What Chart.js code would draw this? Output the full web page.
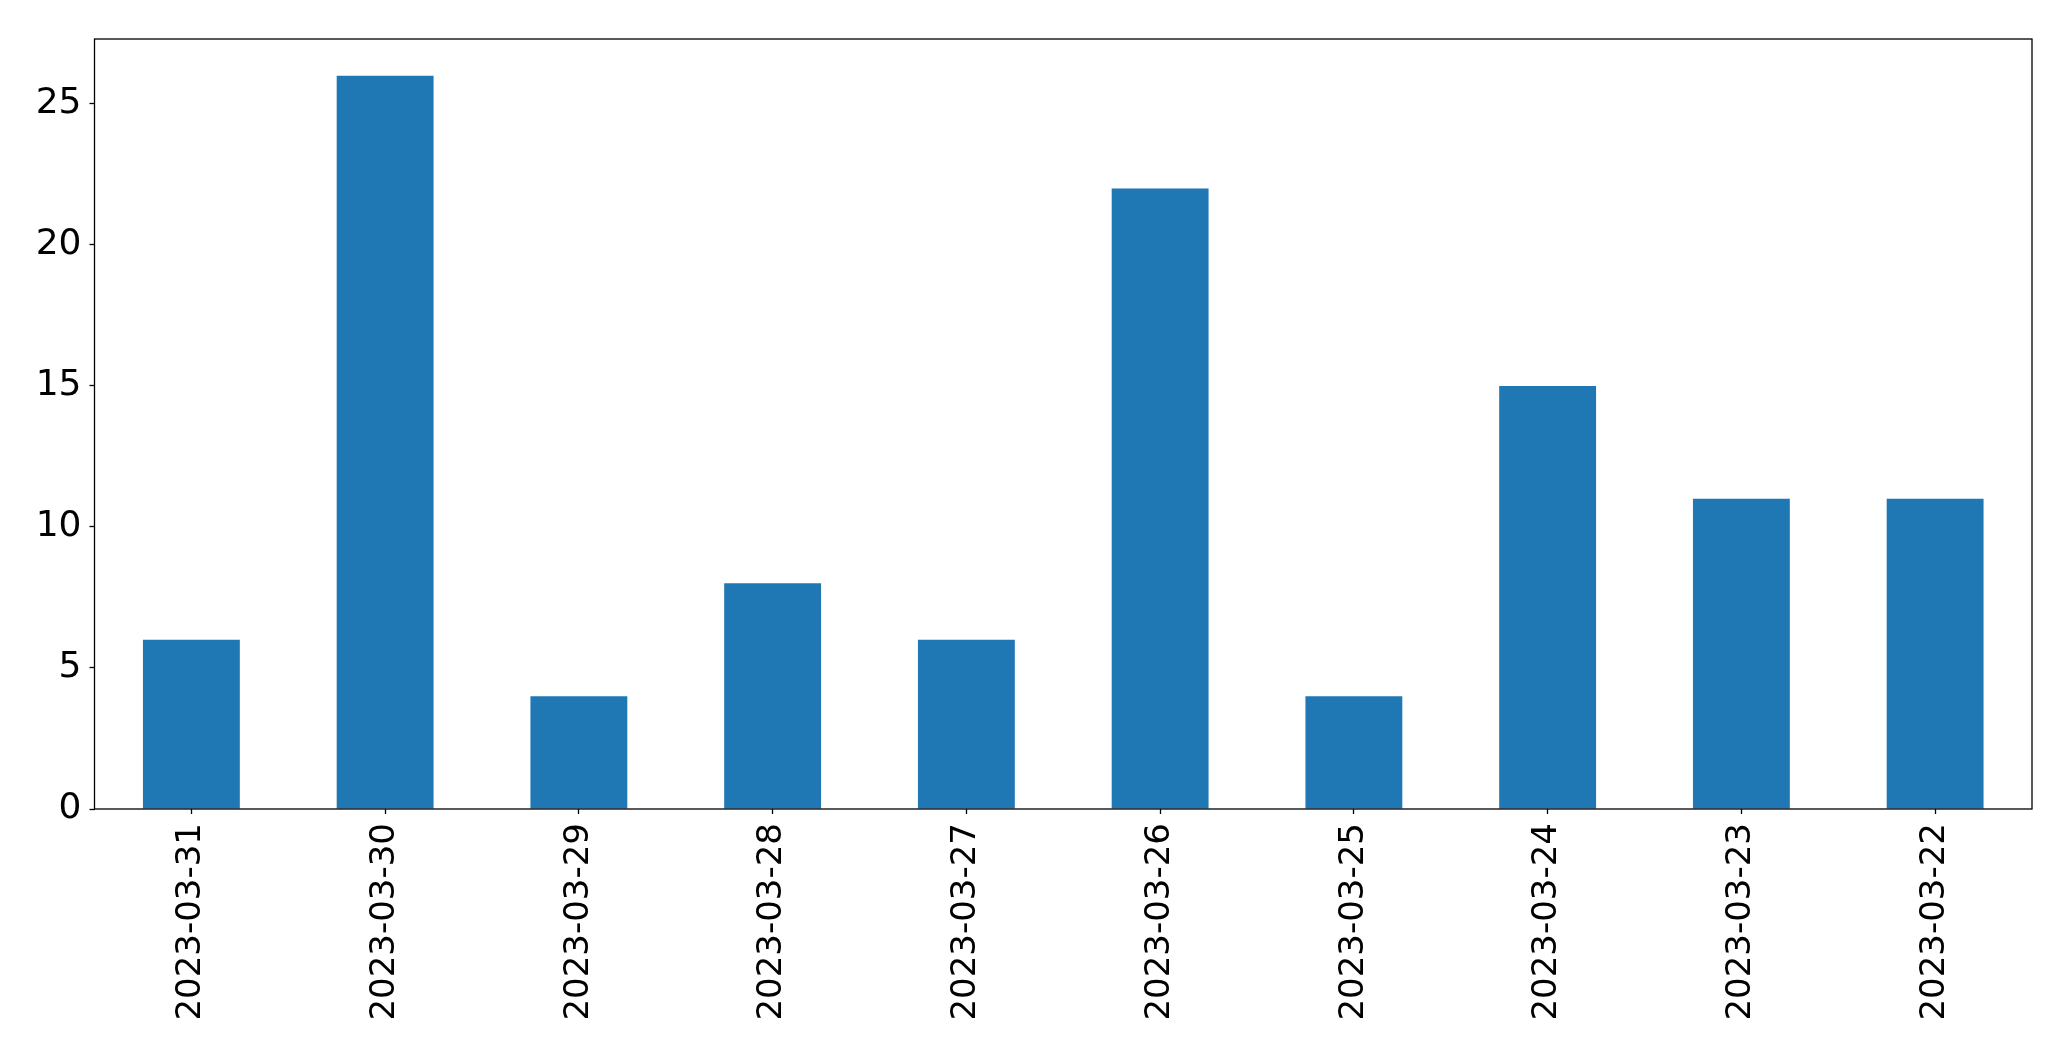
<!DOCTYPE html>
<html>
<head>
<meta charset="utf-8">
<script src="https://cdn.jsdelivr.net/npm/chart.js@4.4.0/dist/chart.umd.min.js"></script>
<style>
  html, body { margin: 0; padding: 0; background: #fff; }
  #wrap { width: 2071px; height: 1061px; }
</style>
</head>
<body>
<div id="wrap"><canvas id="barChart" width="2071" height="1061"></canvas></div>
<script>
var dateLabels = ['2023-03-31', '2023-03-30', '2023-03-29', '2023-03-28', '2023-03-27',
                  '2023-03-26', '2023-03-25', '2023-03-24', '2023-03-23', '2023-03-22'];
var countValues = [6, 26, 4, 8, 6, 22, 4, 15, 11, 11];
var yTicks = [0, 5, 10, 15, 20, 25];

// box around the plot area, like matplotlib's spines
var frameBox = {
  id: 'frameBox',
  afterDraw: function(chart) {
    var a = chart.chartArea;
    var c = chart.ctx;
    c.save();
    c.strokeStyle = '#000';
    c.lineWidth = 1.3;
    c.strokeRect(a.left, a.top, a.right - a.left, a.bottom - a.top);
    c.restore();
  }
};

var ctx = document.getElementById('barChart');
var barChart = new Chart(ctx, {
  type: 'bar',
  data: {
    labels: dateLabels,
    datasets: [{
      data: countValues,
      backgroundColor: '#1f77b4',
      borderWidth: 0,
      categoryPercentage: 1.0,
      barPercentage: 0.5
    }]
  },
  options: {
    responsive: false,
    animation: false,
    layout: { padding: { top: 39, right: 39, left: 0, bottom: 0 } },
    plugins: { legend: { display: false }, tooltip: { enabled: false } },
    scales: {
      x: {
        offset: true,
        grid: { display: true, drawOnChartArea: false, offset: false, tickLength: 5, tickColor: '#000', tickWidth: 1.3 },
        border: { display: false },
        ticks: {
          color: '#000',
          font: { family: 'DejaVu Sans', size: 34 },
          minRotation: 90,
          maxRotation: 90,
          autoSkip: false,
          padding: 9
        },
        afterFit: function(scale) { scale.height = 252; }
      },
      y: {
        min: 0,
        max: 27.3,
        grid: { display: true, drawOnChartArea: false, tickLength: 5, tickColor: '#000', tickWidth: 1.3 },
        border: { display: false },
        afterBuildTicks: function(scale) {
          scale.ticks = yTicks.map(function(v) { return { value: v }; });
        },
        ticks: {
          color: '#000',
          font: { family: 'DejaVu Sans', size: 36 },
          padding: 8
        },
        afterFit: function(scale) { scale.width = 94.5; }
      }
    }
  },
  plugins: [frameBox]
});
</script>
</body>
</html>
